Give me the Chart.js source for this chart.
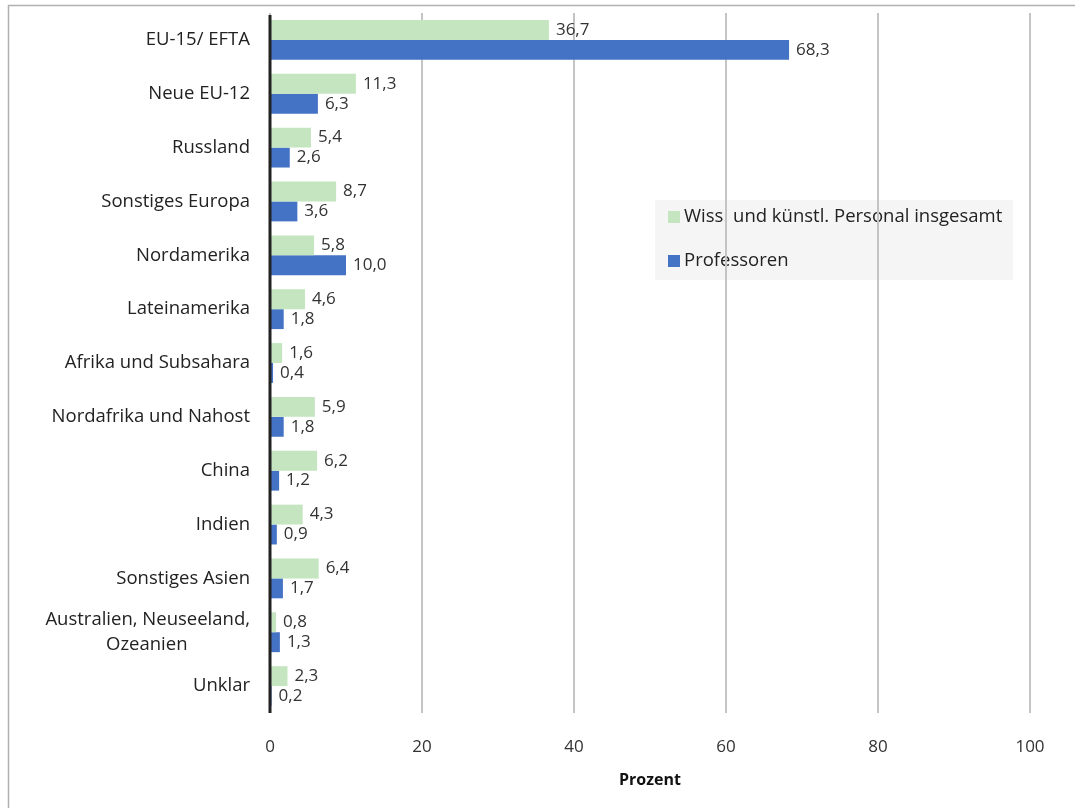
<!DOCTYPE html>
<html>
<head>
<meta charset="utf-8">
<script src="https://cdn.jsdelivr.net/npm/chart.js@4.4.1/dist/chart.umd.min.js"></script>
<style>
  html, body { margin: 0; padding: 0; background: #fff; }
  #wrap { width: 1075px; height: 808px; position: relative; }
</style>
</head>
<body>
<div id="wrap"><canvas id="chart" width="1075" height="808"></canvas></div>
<script>
var categories = [
  'EU-15/ EFTA', 'Neue EU-12', 'Russland', 'Sonstiges Europa', 'Nordamerika',
  'Lateinamerika', 'Afrika und Subsahara', 'Nordafrika und Nahost', 'China',
  'Indien', 'Sonstiges Asien', ['Australien, Neuseeland,', 'Ozeanien'], 'Unklar'
];
var personal = [36.7, 11.3, 5.4, 8.7, 5.8, 4.6, 1.6, 5.9, 6.2, 4.3, 6.4, 0.8, 2.3];
var professoren = [68.3, 6.3, 2.6, 3.6, 10.0, 1.8, 0.4, 1.8, 1.2, 0.9, 1.7, 1.3, 0.2];
var xTicks = [0, 20, 40, 60, 80, 100];

var font = "'Open Sans', 'DejaVu Sans', sans-serif";
var tickFont = '18.5px ' + font;
var ctx = document.getElementById('chart').getContext('2d');

// pad shorter lines of a multi-line label so they sit centred under the longest one
function centerLines(label) {
  if (!Array.isArray(label)) return label;
  ctx.save();
  ctx.font = tickFont;
  var sp = ctx.measureText(' ').width;
  var widths = label.map(function(l) { return ctx.measureText(l).width; });
  var maxW = Math.max.apply(null, widths);
  ctx.restore();
  return label.map(function(l, i) {
    var n = Math.round((maxW - widths[i]) / 2 / sp);
    return l + '\u00a0'.repeat(n);
  });
}

// labels at the end of every bar, comma as decimal mark
var valueLabels = {
  id: 'valueLabels',
  afterDatasetsDraw: function(chart) {
    var c = chart.ctx;
    c.save();
    c.font = '17px ' + font;
    c.fillStyle = '#333';
    c.textAlign = 'left';
    c.textBaseline = 'middle';
    chart.data.datasets.forEach(function(ds, i) {
      chart.getDatasetMeta(i).data.forEach(function(bar, j) {
        c.fillText(ds.data[j].toFixed(1).replace('.', ','), bar.x + 7, bar.y);
      });
    });
    c.restore();
  }
};

// outer frame, legend box (under the grid, as in the source) and zero line
var decor = {
  id: 'decor',
  beforeDraw: function(chart) {
    var c = chart.ctx;
    c.save();
    c.strokeStyle = '#b0b0b0';
    c.lineWidth = 1.5;
    c.beginPath();
    c.moveTo(8.5, 808);
    c.lineTo(8.5, 5.5);
    c.lineTo(1075, 5.5);
    c.stroke();

    c.fillStyle = '#f5f5f5';
    c.fillRect(655, 200, 358, 80);
    c.font = '18.5px ' + font;
    c.textBaseline = 'middle';
    chart.data.datasets.forEach(function(ds, i) {
      var y = 217 + i * 44;
      c.fillStyle = ds.backgroundColor;
      c.fillRect(668, y - 6, 12, 12);
      c.fillStyle = '#222';
      c.fillText(ds.label, 684, y);
    });
    c.restore();
  },
  afterDraw: function(chart) {
    var c = chart.ctx, a = chart.chartArea;
    var x0 = chart.scales.x.getPixelForValue(0);
    c.save();
    c.strokeStyle = '#222';
    c.lineWidth = 3;
    c.beginPath();
    c.moveTo(x0, a.top + 2);
    c.lineTo(x0, a.bottom);
    c.stroke();
    c.restore();
  }
};

var chart = new Chart(ctx, {
  type: 'bar',
  data: {
    labels: categories,
    datasets: [
      {
        label: 'Wiss. und künstl. Personal insgesamt',
        data: personal,
        backgroundColor: '#c4e5c0'
      },
      {
        label: 'Professoren',
        data: professoren,
        backgroundColor: '#4472c4'
      }
    ]
  },
  options: {
    indexAxis: 'y',
    responsive: false,
    animation: false,
    categoryPercentage: 0.74,
    barPercentage: 1,
    layout: { padding: { top: 13, right: 45, bottom: 0, left: 0 } },
    plugins: {
      legend: { display: false },
      tooltip: { enabled: false }
    },
    scales: {
      x: {
        min: 0,
        max: 100,
        afterBuildTicks: function(s) {
          s.ticks = xTicks.map(function(v) { return { value: v }; });
        },
        afterFit: function(s) { s.height = 95; s.paddingLeft = 0; s.paddingRight = 0; },
        grid: { color: '#c4c4c4', lineWidth: 2, drawTicks: false },
        border: { display: false },
        ticks: { padding: 24, color: '#333', font: { family: font, size: 17 } },
        title: {
          display: true,
          text: 'Prozent',
          color: '#111',
          padding: { top: 0, bottom: 18 },
          font: { family: font, size: 16, weight: 'bold' }
        }
      },
      y: {
        afterFit: function(s) { s.width = 270; s.paddingTop = 0; s.paddingBottom = 0; },
        grid: { display: false, drawTicks: false },
        border: { display: false },
        ticks: {
          padding: 20,
          color: '#222',
          font: { family: font, size: 18.5, lineHeight: 1.35 },
          callback: function(value) {
            return centerLines(this.getLabelForValue(value));
          }
        }
      }
    }
  },
  plugins: [valueLabels, decor]
});
</script>
</body>
</html>
